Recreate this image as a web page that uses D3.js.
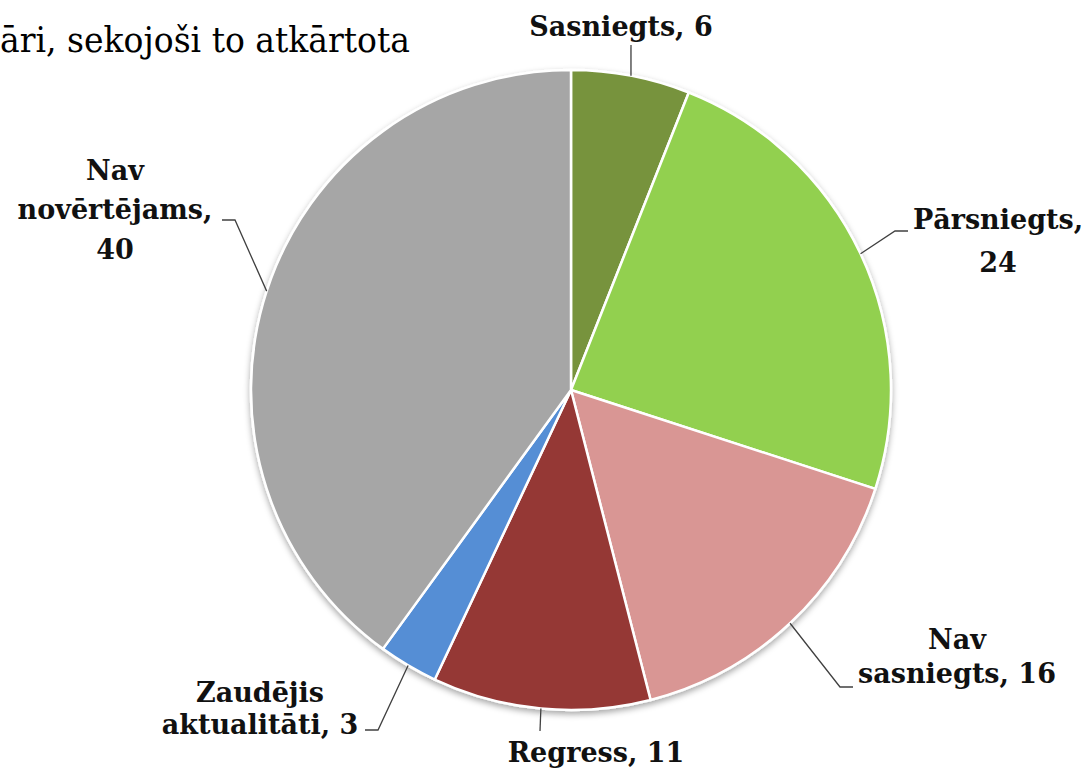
<!DOCTYPE html>
<html>
<head>
<meta charset="utf-8">
<script src="https://cdn.jsdelivr.net/npm/d3@7"></script>
<style>
  body { margin: 0; background: #fff; }
  svg { display: block; }
</style>
</head>
<body>
<script>
// pie chart: status of indicators (Latvian)

// data
var categories = ["Sasniegts", "Pārsniegts", "Nav sasniegts", "Regress", "Zaudējis aktualitāti", "Nav novērtējams"];
var values = [6, 24, 16, 11, 3, 40];
var colors = ["#77933C", "#92D050", "#D99694", "#953735", "#558ED5", "#A6A6A6"];
// label text, split in lines as in the picture
var labelLines = [
    ["Sasniegts, 6"],
    ["Pārsniegts,", "24"],
    ["Nav", "sasniegts, 16"],
    ["Regress, 11"],
    ["Zaudējis", "aktualitāti, 3"],
    ["Nav", "novērtējams,", "40"]
];

// label placement (centre x, baselines, leader elbow points)
var labelLayout = [
    {x: 621, ys: [36], leader: [[631, 45]]},
    {x: 998, ys: [229, 272], leader: [[895, 231], [908, 231]]},
    {x: 957, ys: [649, 683], leader: [[840, 687], [853, 687]]},
    {x: 596, ys: [762], leader: [[540, 731]]},
    {x: 260, ys: [702, 734], leader: [[378, 730], [365, 730]]},
    {x: 115, ys: [180, 219, 259], leader: [[235, 220], [222, 220]]}
];

var width = 1087, height = 769;
var cx = 571, cy = 390, radius = 320;

var svg = d3.select("body").append("svg")
    .attr("width", width)
    .attr("height", height);

// soft shadow under the pie
var defs = svg.append("defs");
var filter = defs.append("filter")
    .attr("id", "shadow")
    .attr("x", "-10%").attr("y", "-10%")
    .attr("width", "120%").attr("height", "120%");
filter.append("feDropShadow")
    .attr("dx", 0).attr("dy", 3)
    .attr("stdDeviation", 3)
    .attr("flood-color", "#000")
    .attr("flood-opacity", 0.35);

// piece of body text above the chart
svg.append("text")
    .attr("x", 0)
    .attr("y", 52)
    .attr("textLength", 410)
    .attr("lengthAdjust", "spacingAndGlyphs")
    .style("font-family", "'DejaVu Serif', serif")
    .style("font-size", "36px")
    .attr("fill", "#000")
    .text("āri, sekojoši to atkārtota");

var data = categories.map(function(c, i) {
    return {name: c, value: values[i], color: colors[i], lines: labelLines[i], layout: labelLayout[i]};
});

var pie = d3.pie()
    .sort(null)
    .value(function(d) { return d.value; });

var arc = d3.arc()
    .innerRadius(0)
    .outerRadius(radius);

var arcs = pie(data);

var g = svg.append("g")
    .attr("transform", "translate(" + cx + "," + cy + ")");

g.append("g")
    .attr("filter", "url(#shadow)")
    .selectAll("path")
    .data(arcs)
    .enter().append("path")
    .attr("d", arc)
    .attr("fill", function(d) { return d.data.color; })
    .attr("stroke", "#fff")
    .attr("stroke-width", 2.5)
    .attr("stroke-linejoin", "round");

// leader lines: from the rim at mid angle to the label
var line = d3.line();
svg.selectAll(".leader")
    .data(arcs)
    .enter().append("path")
    .attr("class", "leader")
    .attr("fill", "none")
    .attr("stroke", "#404040")
    .attr("stroke-width", 1.3)
    .attr("d", function(d) {
        var a = (d.startAngle + d.endAngle) / 2;
        var start = [cx + radius * Math.sin(a), cy - radius * Math.cos(a)];
        return line([start].concat(d.data.layout.leader));
    });

// labels
var labels = svg.selectAll(".label")
    .data(arcs)
    .enter().append("text")
    .attr("class", "label")
    .attr("text-anchor", "middle")
    .style("font-family", "'DejaVu Serif', serif")
    .style("font-weight", "bold")
    .style("font-size", "27px")
    .attr("fill", "#111");

labels.selectAll("tspan")
    .data(function(d) {
        return d.data.lines.map(function(t, i) {
            return {text: t, x: d.data.layout.x, y: d.data.layout.ys[i]};
        });
    })
    .enter().append("tspan")
    .attr("x", function(d) { return d.x; })
    .attr("y", function(d) { return d.y; })
    .text(function(d) { return d.text; });
</script>
</body>
</html>
